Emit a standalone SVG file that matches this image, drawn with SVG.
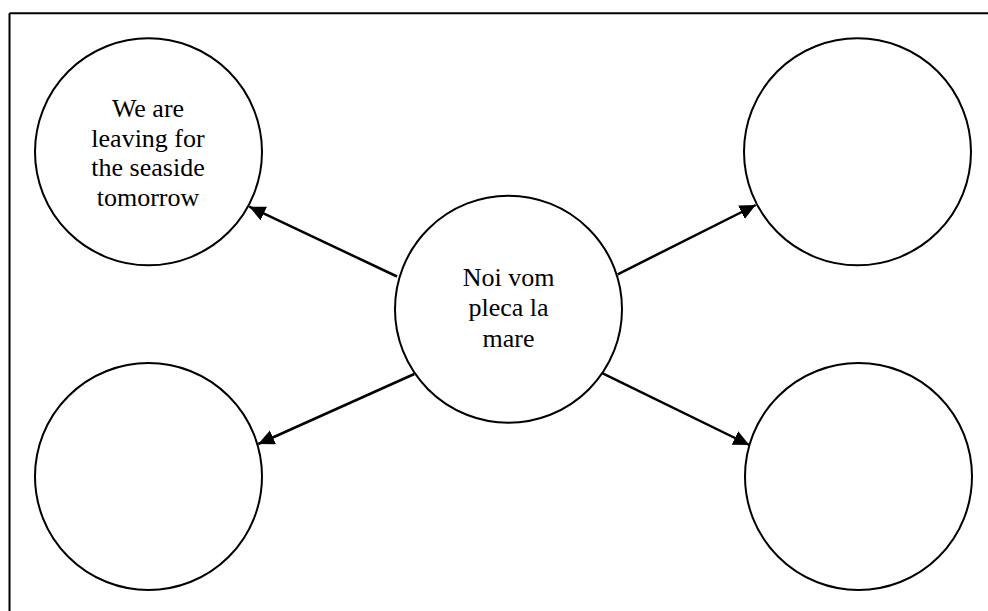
<svg xmlns="http://www.w3.org/2000/svg" width="988" height="611" viewBox="0 0 988 611">
<defs>
<style>
.node{fill:#fff;stroke:#000;stroke-width:2}
.lbl{font-family:"Liberation Serif","Times New Roman",serif;font-size:26px;fill:#000;text-anchor:middle}
.conn{stroke:#000;stroke-width:2.5;fill:none;marker-end:url(#ah)}
</style>
<marker id="ah" markerUnits="userSpaceOnUse" markerWidth="18" markerHeight="16" refX="16" refY="7.5" orient="auto">
<path d="M0,0 L16,7.5 L0,15 z" fill="#000"/>
</marker>
</defs>
<rect width="988" height="611" fill="#fff"/>
<g id="frame" stroke="#000" stroke-width="2" fill="none">
<line x1="9.5" y1="13.3" x2="988" y2="13.3"/>
<line x1="9.5" y1="13.3" x2="9.5" y2="611"/>
</g>
<g id="connectors">
<line class="conn" x1="397" y1="276.5" x2="249.3" y2="206.7"/>
<line class="conn" x1="617.7" y1="274.3" x2="755.7" y2="205"/>
<line class="conn" x1="414.3" y1="374" x2="258.3" y2="444"/>
<line class="conn" x1="602.7" y1="373.3" x2="749.3" y2="445"/>
</g>
<g id="n-center">
<circle class="node" cx="508.5" cy="309.2" r="113.5"/>
<text class="lbl"><tspan x="508.5" y="285.5">Noi vom</tspan><tspan x="508.5" y="316">pleca la</tspan><tspan x="508.5" y="346.5">mare</tspan></text>
</g>
<g id="n-topleft">
<circle class="node" cx="148.5" cy="151.8" r="113.5"/>
<text class="lbl"><tspan x="148" y="117">We are</tspan><tspan x="148" y="146.5">leaving for</tspan><tspan x="148" y="176">the seaside</tspan><tspan x="148" y="205.5">tomorrow</tspan></text>
</g>
<g id="n-topright">
<circle class="node" cx="857.5" cy="151.8" r="113.5"/>
</g>
<g id="n-bottomleft">
<circle class="node" cx="148.5" cy="476.5" r="113.5"/>
</g>
<g id="n-bottomright">
<circle class="node" cx="858.5" cy="476.5" r="113.5"/>
</g>
</svg>
